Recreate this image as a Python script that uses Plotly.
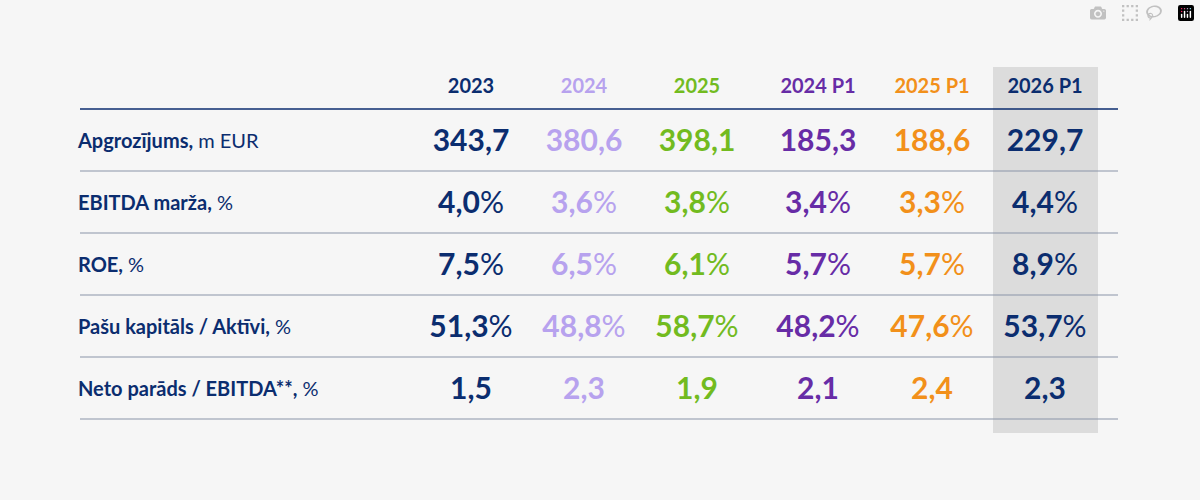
import plotly.graph_objects as go

# data
columns = ["2023", "2024", "2025", "2024 P1", "2025 P1", "2026 P1"]
col_colors = ["#0b2d6f", "#b7a2ee", "#72bb1f", "#672ca6", "#f2901a", "#0b2d6f"]
row_labels = ["Apgrozījums", "EBITDA marža", "ROE", "Pašu kapitāls / Aktīvi", "Neto parāds / EBITDA**"]
row_units = ["m EUR", "%", "%", "%", "%"]
row_is_pct = [False, True, True, True, False]
values = [
    ["343,7", "380,6", "398,1", "185,3", "188,6", "229,7"],
    ["4,0", "3,6", "3,8", "3,4", "3,3", "4,4"],
    ["7,5", "6,5", "6,1", "5,7", "5,7", "8,9"],
    ["51,3", "48,8", "58,7", "48,2", "47,6", "53,7"],
    ["1,5", "2,3", "1,9", "2,1", "2,4", "2,3"],
]

NAVY = "#0b2d6f"
FONT = "Lato"
col_x = [471, 584, 697, 818, 932, 1045]
row_y = [143, 205, 267, 329, 391]

fig = go.Figure()

# highlighted last column
fig.add_shape(type="rect", x0=993, x1=1098, y0=67, y1=433,
              fillcolor="#dcdcdc", line_width=0, layer="below")

# header line and row separators
fig.add_shape(type="line", x0=80, x1=1118, y0=109, y1=109, line=dict(color=NAVY, width=1.3))
for y in row_y:
    fig.add_shape(type="line", x0=80, x1=1118, y0=y + 28, y1=y + 28,
                  line=dict(color="#8a94a8", width=1))

# header
fig.add_trace(go.Scatter(
    x=col_x, y=[88] * len(columns), mode="text",
    text=[f"<b>{c}</b>" for c in columns],
    textfont=dict(family=FONT, size=20, color=col_colors),
    hoverinfo="skip", showlegend=False))

# row labels
fig.add_trace(go.Scatter(
    x=[78] * len(row_labels), y=row_y, mode="text", textposition="middle right",
    text=[f"<b>{l},</b> {u}" for l, u in zip(row_labels, row_units)],
    textfont=dict(family=FONT, size=20, color=NAVY),
    hoverinfo="skip", showlegend=False))

# values per column
for j, c in enumerate(columns):
    txt = []
    for i in range(len(row_labels)):
        v = values[i][j]
        txt.append(f"<b>{v}</b>%" if row_is_pct[i] else f"<b>{v}</b>")
    fig.add_trace(go.Scatter(
        x=[col_x[j]] * len(row_y), y=row_y, mode="text", text=txt,
        textfont=dict(family=FONT, size=30, color=col_colors[j]),
        hoverinfo="skip", showlegend=False))

fig.update_layout(
    width=1200, height=500, margin=dict(l=0, r=0, t=0, b=0),
    paper_bgcolor="#f6f6f6", plot_bgcolor="#f6f6f6",
    xaxis=dict(range=[0, 1200], visible=False, fixedrange=True),
    yaxis=dict(range=[500, 0], visible=False, fixedrange=True),
)
fig.write_html("out.html", post_script="document.body.style.margin='0';document.body.style.background='#f6f6f6';")
